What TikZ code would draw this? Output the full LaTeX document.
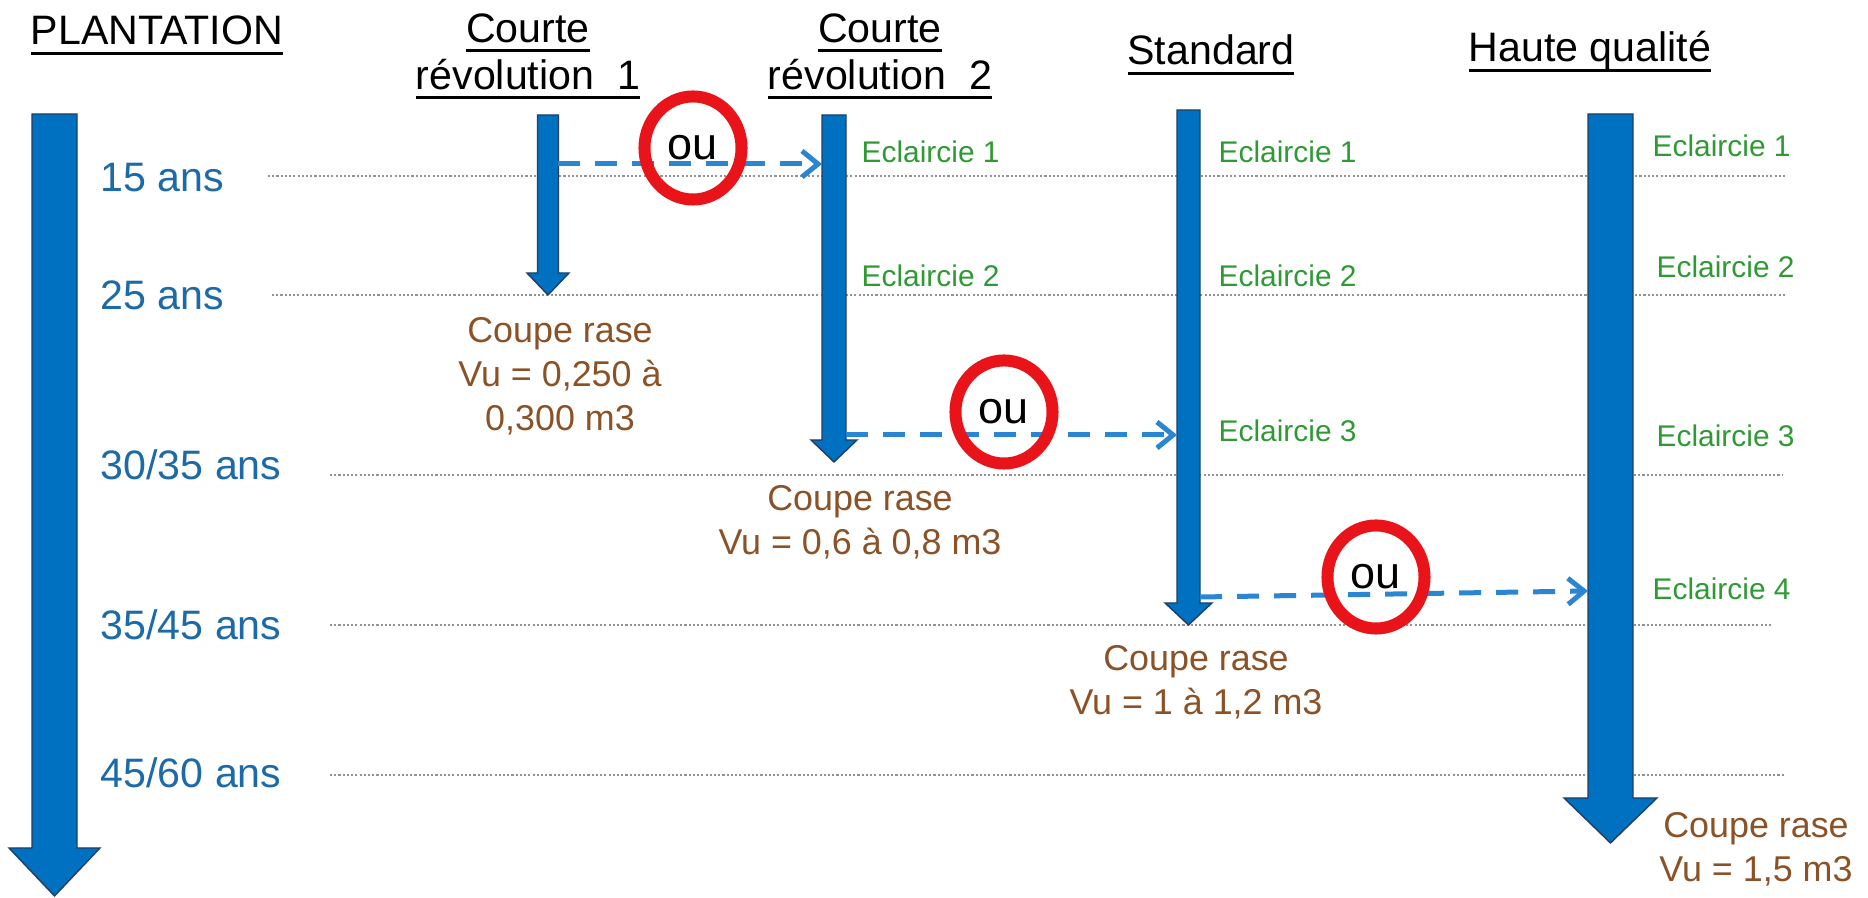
\documentclass[tikz,border=0pt]{standalone}
\usepackage{fontspec}
\setmainfont{Liberation Sans}
\usetikzlibrary{arrows.meta,shapes.geometric}

\definecolor{bleu}{HTML}{0070C0}
\definecolor{bleufonce}{HTML}{1F3F66}
\definecolor{bleuan}{HTML}{1C6AA8}
\definecolor{bleutiret}{HTML}{2A86D2}
\definecolor{vert}{HTML}{2F9A35}
\definecolor{brun}{HTML}{8A5226}
\definecolor{rouge}{HTML}{E8141A}

% titre souligne
\newcommand{\souligne}[1]{\setbox0=\hbox{#1}\rlap{\rule[-0.10cm]{\wd0}{0.03cm}}\box0}
% fleche bloc : x, haut, demi tige, demi tete, base tete, pointe
\newcommand{\fleche}[6]{%
  \filldraw[bloc] (#1-#3,#2) -- (#1+#3,#2) -- (#1+#3,#5) -- (#1+#4,#5) -- (#1,#6)
    -- (#1-#4,#5) -- (#1-#3,#5) -- cycle;}

\begin{document}
\begin{tikzpicture}[x=0.01cm,y=-0.01cm,
  titre/.style={font=\fontsize{11.7}{13.3}\selectfont,align=center,inner sep=0pt},
  age/.style={font=\fontsize{11.7}{14}\selectfont,text=bleuan,anchor=base west,inner sep=0pt},
  ecl/.style={font=\fontsize{8.5}{10}\selectfont,text=vert,anchor=base west,inner sep=0pt},
  coupe/.style={font=\fontsize{10.2}{12.5}\selectfont,text=brun,align=center,anchor=north,inner sep=0pt},
  ligne/.style={draw=gray!85,line width=0.5pt,dash pattern=on 0.6pt off 0.6pt},
  bloc/.style={fill=bleu,draw=bleufonce,line width=0.4pt},
  tiret/.style={draw=bleutiret,line width=0.05cm,dash pattern=on 0.22cm off 0.15cm,
    -{Straight Barb[length=0.16cm,width=0.26cm]}},
  ou/.style={draw=rouge,line width=0.12cm,ellipse,minimum width=0.97cm,minimum height=1.03cm,
    inner sep=0pt,font=\fontsize{12.8}{14}\selectfont}]
\useasboundingbox (0,0) rectangle (1868,898);

% lignes des ages
\path[ligne] (268,176) -- (1786,176);
\path[ligne] (272,295) -- (1786,295);
\path[ligne] (330,475) -- (1783,475);
\path[ligne] (330,625) -- (1772,625);
\path[ligne] (330,775) -- (1785,775);

% fleches
\fleche{54.5}{114}{22.5}{45.5}{848}{896}
\fleche{548}{115}{10.5}{21}{273}{295}
\fleche{834}{115}{12}{23}{440}{462}
\fleche{1188.5}{110}{11.5}{23.5}{603}{625}
\fleche{1610.5}{114}{22.5}{46.5}{798}{843}

% titres
\node[titre,anchor=base] (plant) at (157,45) {\souligne{PLANTATION}};
\node[titre,anchor=north] (cr1) at (528,13) {\souligne{Courte}\\\souligne{révolution~~1}};
\node[titre,anchor=north] (cr2) at (880,13) {\souligne{Courte}\\\souligne{révolution~~2}};
\node[titre,anchor=base] (std) at (1211,65) {\souligne{Standard}};
\node[titre,anchor=base] (hq) at (1590,62) {\souligne{Haute qualité}};

% ages
\node[age] (a15) at (100,192) {15 ans};
\node[age] (a25) at (100,310) {25 ans};
\node[age] (a30) at (100,480) {30/35 ans};
\node[age] (a35) at (100,640) {35/45 ans};
\node[age] (a45) at (100,788) {45/60 ans};

% eclaircies
\node[ecl] (e1cr2) at (861,163) {Eclaircie 1};
\node[ecl] (e2cr2) at (861,287) {Eclaircie 2};
\node[ecl] (e1std) at (1218,163) {Eclaircie 1};
\node[ecl] (e2std) at (1218,287) {Eclaircie 2};
\node[ecl] (e3std) at (1218,442) {Eclaircie 3};
\node[ecl] (e1hq) at (1652,157) {Eclaircie 1};
\node[ecl] (e2hq) at (1656,278) {Eclaircie 2};
\node[ecl] (e3hq) at (1656,447) {Eclaircie 3};
\node[ecl] (e4hq) at (1652,600) {Eclaircie 4};

% coupes rases
\node[coupe] (ccr1) at (560,317) {Coupe rase\\Vu = 0,250 à\\0,300 m3};
\node[coupe] (ccr2) at (860,485) {Coupe rase\\Vu = 0,6 à 0,8 m3};
\node[coupe] (cstd) at (1196,645) {Coupe rase\\Vu = 1 à 1,2 m3};
\node[coupe] (chq) at (1756,812) {Coupe rase\\Vu = 1,5 m3};

% passages
\coordinate (p1a) at (558,164);
\coordinate (p1b) at (822,164);
\coordinate (p2a) at (846,435);
\coordinate (p2b) at (1177,435);
\coordinate (p3a) at (1200,597);
\coordinate (p3b) at (1588,591);
\path[tiret] (p1a) -- (p1b);
\path[tiret] (p2a) -- (p2b);
\path[tiret] (p3a) -- (p3b);

% ou
\node[ou] (ou1) at (693,148) {ou};
\node[ou] (ou2) at (1004,412) {ou};
\node[ou] (ou3) at (1376,577) {ou};
\end{tikzpicture}
\end{document}
